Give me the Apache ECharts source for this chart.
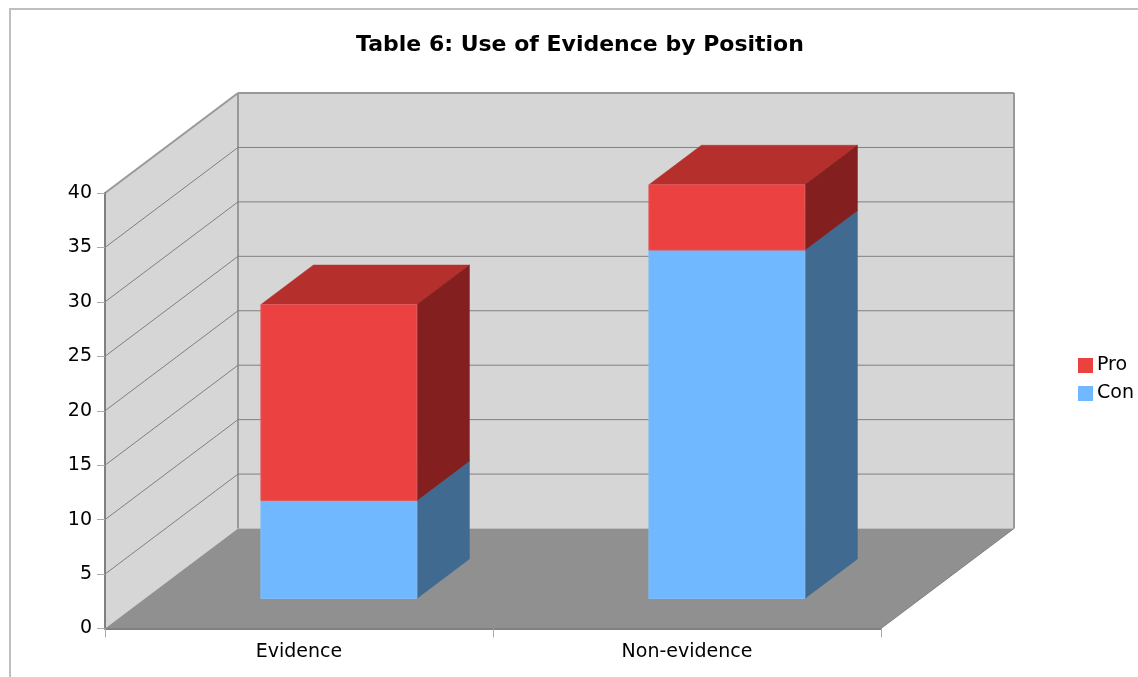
<!DOCTYPE html>
<html>
<head>
<meta charset="utf-8">
<title>Use of Evidence by Position</title>
<script src="https://cdn.jsdelivr.net/npm/echarts@6/dist/echarts.min.js"></script>
<style>
  html, body { margin: 0; padding: 0; background: #fff; }
  #chart { width: 1138px; height: 677px; }
</style>
</head>
<body>
<div id="chart"></div>
<script>
// Chart data
const categories = ['Evidence', 'Non-evidence'];
const conValues = [9, 32];
const proValues = [18, 6];
const valueTicks = [5, 10, 15, 20, 25, 30, 35, 40];
const legendOrder = ['Pro', 'Con'];

// Oblique projection: how far the back of the plot sits from its front plane
const DEPTH_X = 133;
const DEPTH_Y = -100;
const BAR_DEPTH_START = 0.3;
const BAR_DEPTH_END = 0.695;
const BAR_WIDTH_RATIO = 0.402;

const font = '"DejaVu Sans", sans-serif';
const shift = (p, d) => [p[0] + DEPTH_X * d, p[1] + DEPTH_Y * d];

const poly = (points, fill, stroke, width) => ({
  type: 'polygon',
  shape: { points },
  style: { fill, stroke: stroke || null, lineWidth: width || 0 }
});
const line = (a, b, stroke, width) => ({
  type: 'line',
  shape: { x1: a[0], y1: a[1], x2: b[0], y2: b[1] },
  style: { stroke, lineWidth: width, fill: null }
});

// Left wall, back wall and floor of the box
function renderRoom(params, api) {
  const g = params.coordSys;
  const fl = [g.x, g.y + g.height];
  const fr = [g.x + g.width, g.y + g.height];
  const tl = [g.x, g.y];
  const bfl = shift(fl, 1), bfr = shift(fr, 1), btl = shift(tl, 1);
  const btr = shift([g.x + g.width, g.y], 1);
  return {
    type: 'group',
    children: [
      poly([fl, tl, btl, bfl], '#d6d6d6'),
      poly([bfl, btl, btr, bfr], '#d6d6d6'),
      poly([fl, fr, bfr, bfl], '#909090'),
      line(tl, btl, '#999999', 2),
      line(btl, btr, '#999999', 2),
      line(btl, bfl, '#999999', 2),
      line(btr, bfr, '#999999', 2),
      line(fr, bfr, '#808080', 1)
    ]
  };
}

// One gridline per tick, running along the left wall and across the back wall
function renderGridline(params, api) {
  const g = params.coordSys;
  const y = api.coord([0, api.value(1)])[1];
  const front = [g.x, y];
  const back = shift(front, 1);
  const right = [g.x + g.width + DEPTH_X, back[1]];
  return {
    type: 'group',
    children: [line(front, back, '#808080', 1), line(back, right, '#808080', 1)]
  };
}

// A stacked block drawn as front, side and top faces
function boxRenderer(front, side, top, edge) {
  return function (params, api) {
    const center = api.coord([api.value(0), 0])[0];
    const halfWidth = api.size([1, 0])[0] * BAR_WIDTH_RATIO / 2;
    const yLow = api.coord([0, api.value(1)])[1];
    const yHigh = api.coord([0, api.value(2)])[1];
    const fbl = shift([center - halfWidth, yLow], BAR_DEPTH_START);
    const fbr = shift([center + halfWidth, yLow], BAR_DEPTH_START);
    const ftl = shift([center - halfWidth, yHigh], BAR_DEPTH_START);
    const ftr = shift([center + halfWidth, yHigh], BAR_DEPTH_START);
    const run = BAR_DEPTH_END - BAR_DEPTH_START;
    const bbr = shift(fbr, run), btr = shift(ftr, run), btl = shift(ftl, run);
    return {
      type: 'group',
      children: [
        poly([ftl, ftr, btr, btl], top, top, 0.5),
        poly([fbr, ftr, btr, bbr], side, side, 0.5),
        poly([fbl, fbr, ftr, ftl], front, edge, 1)
      ]
    };
  };
}

const conBoxes = categories.map((_, i) => [i, 0, conValues[i]]);
const proBoxes = categories.map((_, i) => [i, conValues[i], conValues[i] + proValues[i]]);

const chart = echarts.init(document.getElementById('chart'), null, { renderer: 'canvas' });
chart.setOption({
  animation: false,
  backgroundColor: '#ffffff',
  title: {
    text: 'Table 6: Use of Evidence by Position',
    left: 351,
    top: 29,
    textStyle: { fontFamily: font, fontSize: 22, fontWeight: 'bold', color: '#000000' }
  },
  legend: {
    data: legendOrder,
    orient: 'vertical',
    left: 1078,
    top: 356,
    icon: 'rect',
    itemWidth: 15,
    itemHeight: 15,
    itemGap: 9,
    padding: 0,
    selectedMode: false,
    textStyle: { fontFamily: font, fontSize: 19, color: '#000000', padding: [0, 0, 0, -1] }
  },
  grid: { left: 105, top: 193, width: 776, height: 435.5, containLabel: false },
  xAxis: {
    type: 'category',
    data: categories,
    z: 6,
    axisLine: { show: true, lineStyle: { color: '#808080', width: 2 } },
    axisTick: { show: true, length: 9, lineStyle: { color: '#aaaaaa', width: 1 } },
    axisLabel: { fontFamily: font, fontSize: 19, color: '#000000', margin: 14 },
    splitLine: { show: false }
  },
  yAxis: {
    type: 'value',
    min: 0,
    max: 40,
    interval: 5,
    z: 6,
    axisLine: { show: true, lineStyle: { color: '#808080', width: 2 } },
    axisTick: { show: true, length: 8, lineStyle: { color: '#aaaaaa', width: 1 } },
    axisLabel: { fontFamily: font, fontSize: 19, color: '#000000', margin: 13 },
    splitLine: { show: false }
  },
  graphic: [{
    type: 'polyline',
    silent: true,
    shape: { points: [[10, 677], [10, 9], [1138, 9]] },
    style: { stroke: '#bfbfbf', lineWidth: 2, fill: null }
  }],
  series: [
    { type: 'custom', name: 'room', z: 1, silent: true, renderItem: renderRoom, data: [[0, 0]], encode: { x: 0, y: 1 } },
    { type: 'custom', name: 'gridlines', z: 1.5, silent: true, renderItem: renderGridline,
      data: valueTicks.slice(0, -1).map(v => [0, v]), encode: { x: 0, y: 1 } },
    { type: 'custom', name: 'Con', z: 2, renderItem: boxRenderer('#70b8ff', '#406a90', '#4f7fb0', '#80bdf8'),
      itemStyle: { color: '#70b8ff' }, data: conBoxes, encode: { x: 0, y: [1, 2] } },
    { type: 'custom', name: 'Pro', z: 3, renderItem: boxRenderer('#eb4141', '#841f1f', '#b5302c', '#e05a5a'),
      itemStyle: { color: '#eb4141' }, data: proBoxes, encode: { x: 0, y: [1, 2] } }
  ]
});
</script>
</body>
</html>
